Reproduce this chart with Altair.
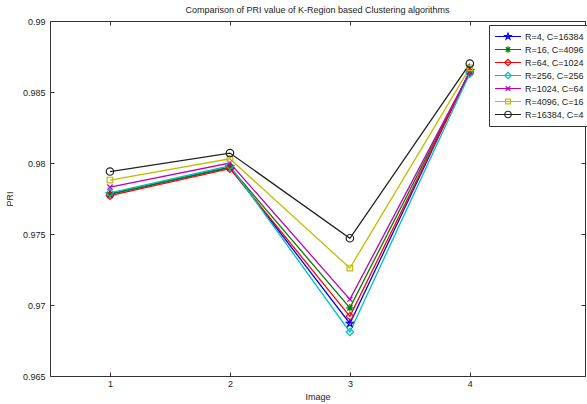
import math
import altair as alt
import pandas as pd

# ---------------- data ----------------
images = [1, 2, 3, 4]
series = ["R=4, C=16384", "R=16, C=4096", "R=64, C=1024", "R=256, C=256",
          "R=1024, C=64", "R=4096, C=16", "R=16384, C=4"]
pri_r4 = [0.9778, 0.9797, 0.9687, 0.9865]
pri_r16 = [0.9778, 0.9797, 0.9698, 0.9864]
pri_r64 = [0.9777, 0.9796, 0.9692, 0.9864]
pri_r256 = [0.9779, 0.9798, 0.9681, 0.9863]
pri_r1024 = [0.9783, 0.9800, 0.9704, 0.9864]
pri_r4096 = [0.9788, 0.9803, 0.9726, 0.9867]
pri_r16384 = [0.9794, 0.9807, 0.9747, 0.9870]
y_ticks = [0.965, 0.97, 0.975, 0.98, 0.985, 0.99]

all_vals = [pri_r4, pri_r16, pri_r64, pri_r256, pri_r1024, pri_r4096, pri_r16384]
rows = []
for name, vals in zip(series, all_vals):
    for x, v in zip(images, vals):
        rows.append({"Image": x, "PRI": v, "Series": name})
df = pd.DataFrame(rows)

colors = ["#0000FF", "#008000", "#FF0000", "#00BFBF", "#BF00BF", "#BFBF00", "#222222"]

# ---------------- marker paths ----------------
def star(m):
    pts = []
    for i in range(10):
        a = -math.pi / 2 + i * math.pi / 5
        rr = m if i % 2 == 0 else m * 0.4
        pts.append((rr * math.cos(a), rr * math.sin(a)))
    return "M" + " L".join(f"{x:.3f},{y:.3f}" for x, y in pts) + " Z"

def asterisk(m):
    d = 0.7 * m
    return (f"M{-m},0 L{m},0 M0,{-m} L0,{m} "
            f"M{-d},{-d} L{d},{d} M{-d},{d} L{d},{-d}")

def diamond(m):
    return f"M{-m},0 L0,{-m} L{m},0 L0,{m} Z"

def cross(m):
    d = 0.7 * m
    return f"M{-d},{-d} L{d},{d} M{-d},{d} L{d},{-d}"

def square(m):
    d = 0.75 * m
    return f"M{-d},{-d} L{d},{-d} L{d},{d} L{-d},{d} Z"

def circle(m):
    return f"M{m},0 A{m},{m} 0 1,1 {-m},0 A{m},{m} 0 1,1 {m},0 Z"

makers = [star, asterisk, diamond, diamond, cross, square, circle]
plot_shapes = [f(1) for f in makers]
legend_shapes = ["M-1,0 L1,0 " + f(0.25) for f in makers]

# ---------------- chart ----------------
W, H = 535, 355
x_dom = [0.5, 4.96]
y_dom = [0.965, 0.99]
FONT = "Liberation Sans"

xs = alt.Scale(domain=x_dom, nice=False, zero=False)
ys = alt.Scale(domain=y_dom, nice=False, zero=False)

ax_x_main = alt.Axis(values=images, format="d", ticks=False, domain=False, grid=False,
                     labelPadding=3, title="Image", titlePadding=4, labelFontSize=9,
                     titleFontSize=9, titleFontWeight="normal")
ax_y_main = alt.Axis(values=y_ticks, format=".3~f", ticks=False, domain=False, grid=False,
                     labelPadding=5, title="PRI", titlePadding=8, labelFontSize=9,
                     titleFontSize=9, titleFontWeight="normal")
ax_x_bottom_ticks = alt.Axis(orient="top", offset=-H, values=images, labels=False,
                             domain=False, grid=False, tickSize=4, title=None)
ax_y_left_ticks = alt.Axis(orient="right", offset=-W, values=y_ticks, labels=False,
                           domain=False, grid=False, tickSize=4, title=None)
ax_x_top_ticks = alt.Axis(orient="bottom", offset=-H, values=images, labels=False,
                          domain=False, grid=False, tickSize=4, title=None)
ax_y_right_ticks = alt.Axis(orient="left", offset=-W, values=y_ticks, labels=False,
                            domain=False, grid=False, tickSize=4, title=None)

cscale = alt.Scale(domain=series, range=colors)

lines = alt.Chart(df).mark_line(strokeWidth=1.3).encode(
    x=alt.X("Image:Q", scale=xs, axis=ax_x_main),
    y=alt.Y("PRI:Q", scale=ys, axis=ax_y_main),
    color=alt.Color("Series:N", scale=cscale, legend=None),
    order=alt.Order("Image:Q"),
)

points = alt.Chart(df).mark_point(filled=False, size=56, strokeWidth=1.2, opacity=1).encode(
    x=alt.X("Image:Q", scale=xs, axis=ax_x_bottom_ticks),
    y=alt.Y("PRI:Q", scale=ys, axis=ax_y_left_ticks),
    color=alt.Color("Series:N", scale=cscale, legend=None),
    shape=alt.Shape("Series:N", scale=alt.Scale(domain=series, range=plot_shapes), legend=None),
)

leg = alt.Legend(title=None, orient="none", legendX=439, legendY=4, symbolSize=676,
                 symbolStrokeWidth=1.2, labelFontSize=9, labelFont=FONT,
                 strokeColor="#333333", fillColor="white", padding=5, rowPadding=0,
                 clipHeight=13, labelOffset=3, labelColor="#222222")

legend_layer = alt.Chart(df).transform_filter("false").mark_point(
    filled=False, size=676, strokeWidth=1.2, opacity=1).encode(
    x=alt.X("Image:Q", scale=xs, axis=ax_x_top_ticks),
    y=alt.Y("PRI:Q", scale=ys, axis=ax_y_right_ticks),
    color=alt.Color("Series:N", scale=cscale, legend=leg),
    shape=alt.Shape("Series:N", scale=alt.Scale(domain=series, range=legend_shapes), legend=leg),
)

chart = alt.layer(lines, points, legend_layer).resolve_scale(
    color="independent", shape="independent"
).resolve_axis(
    x="independent", y="independent"
).properties(
    width=W, height=H,
    autosize=alt.AutoSizeParams(type="none"),
    padding={"left": 50, "top": 21, "right": 2, "bottom": 28},
    title=alt.TitleParams("Comparison of PRI value of K-Region based Clustering algorithms",
                          fontSize=9, fontWeight="normal", font=FONT, offset=2,
                          anchor="middle", color="#222222"),
    background="white",
).configure_view(
    stroke="#333333", strokeWidth=1
).configure_axis(
    labelFont=FONT, titleFont=FONT, labelColor="#222222", titleColor="#222222",
    tickColor="#333333"
)

chart.save("out.html", embed_options={"renderer": "svg", "actions": False})
